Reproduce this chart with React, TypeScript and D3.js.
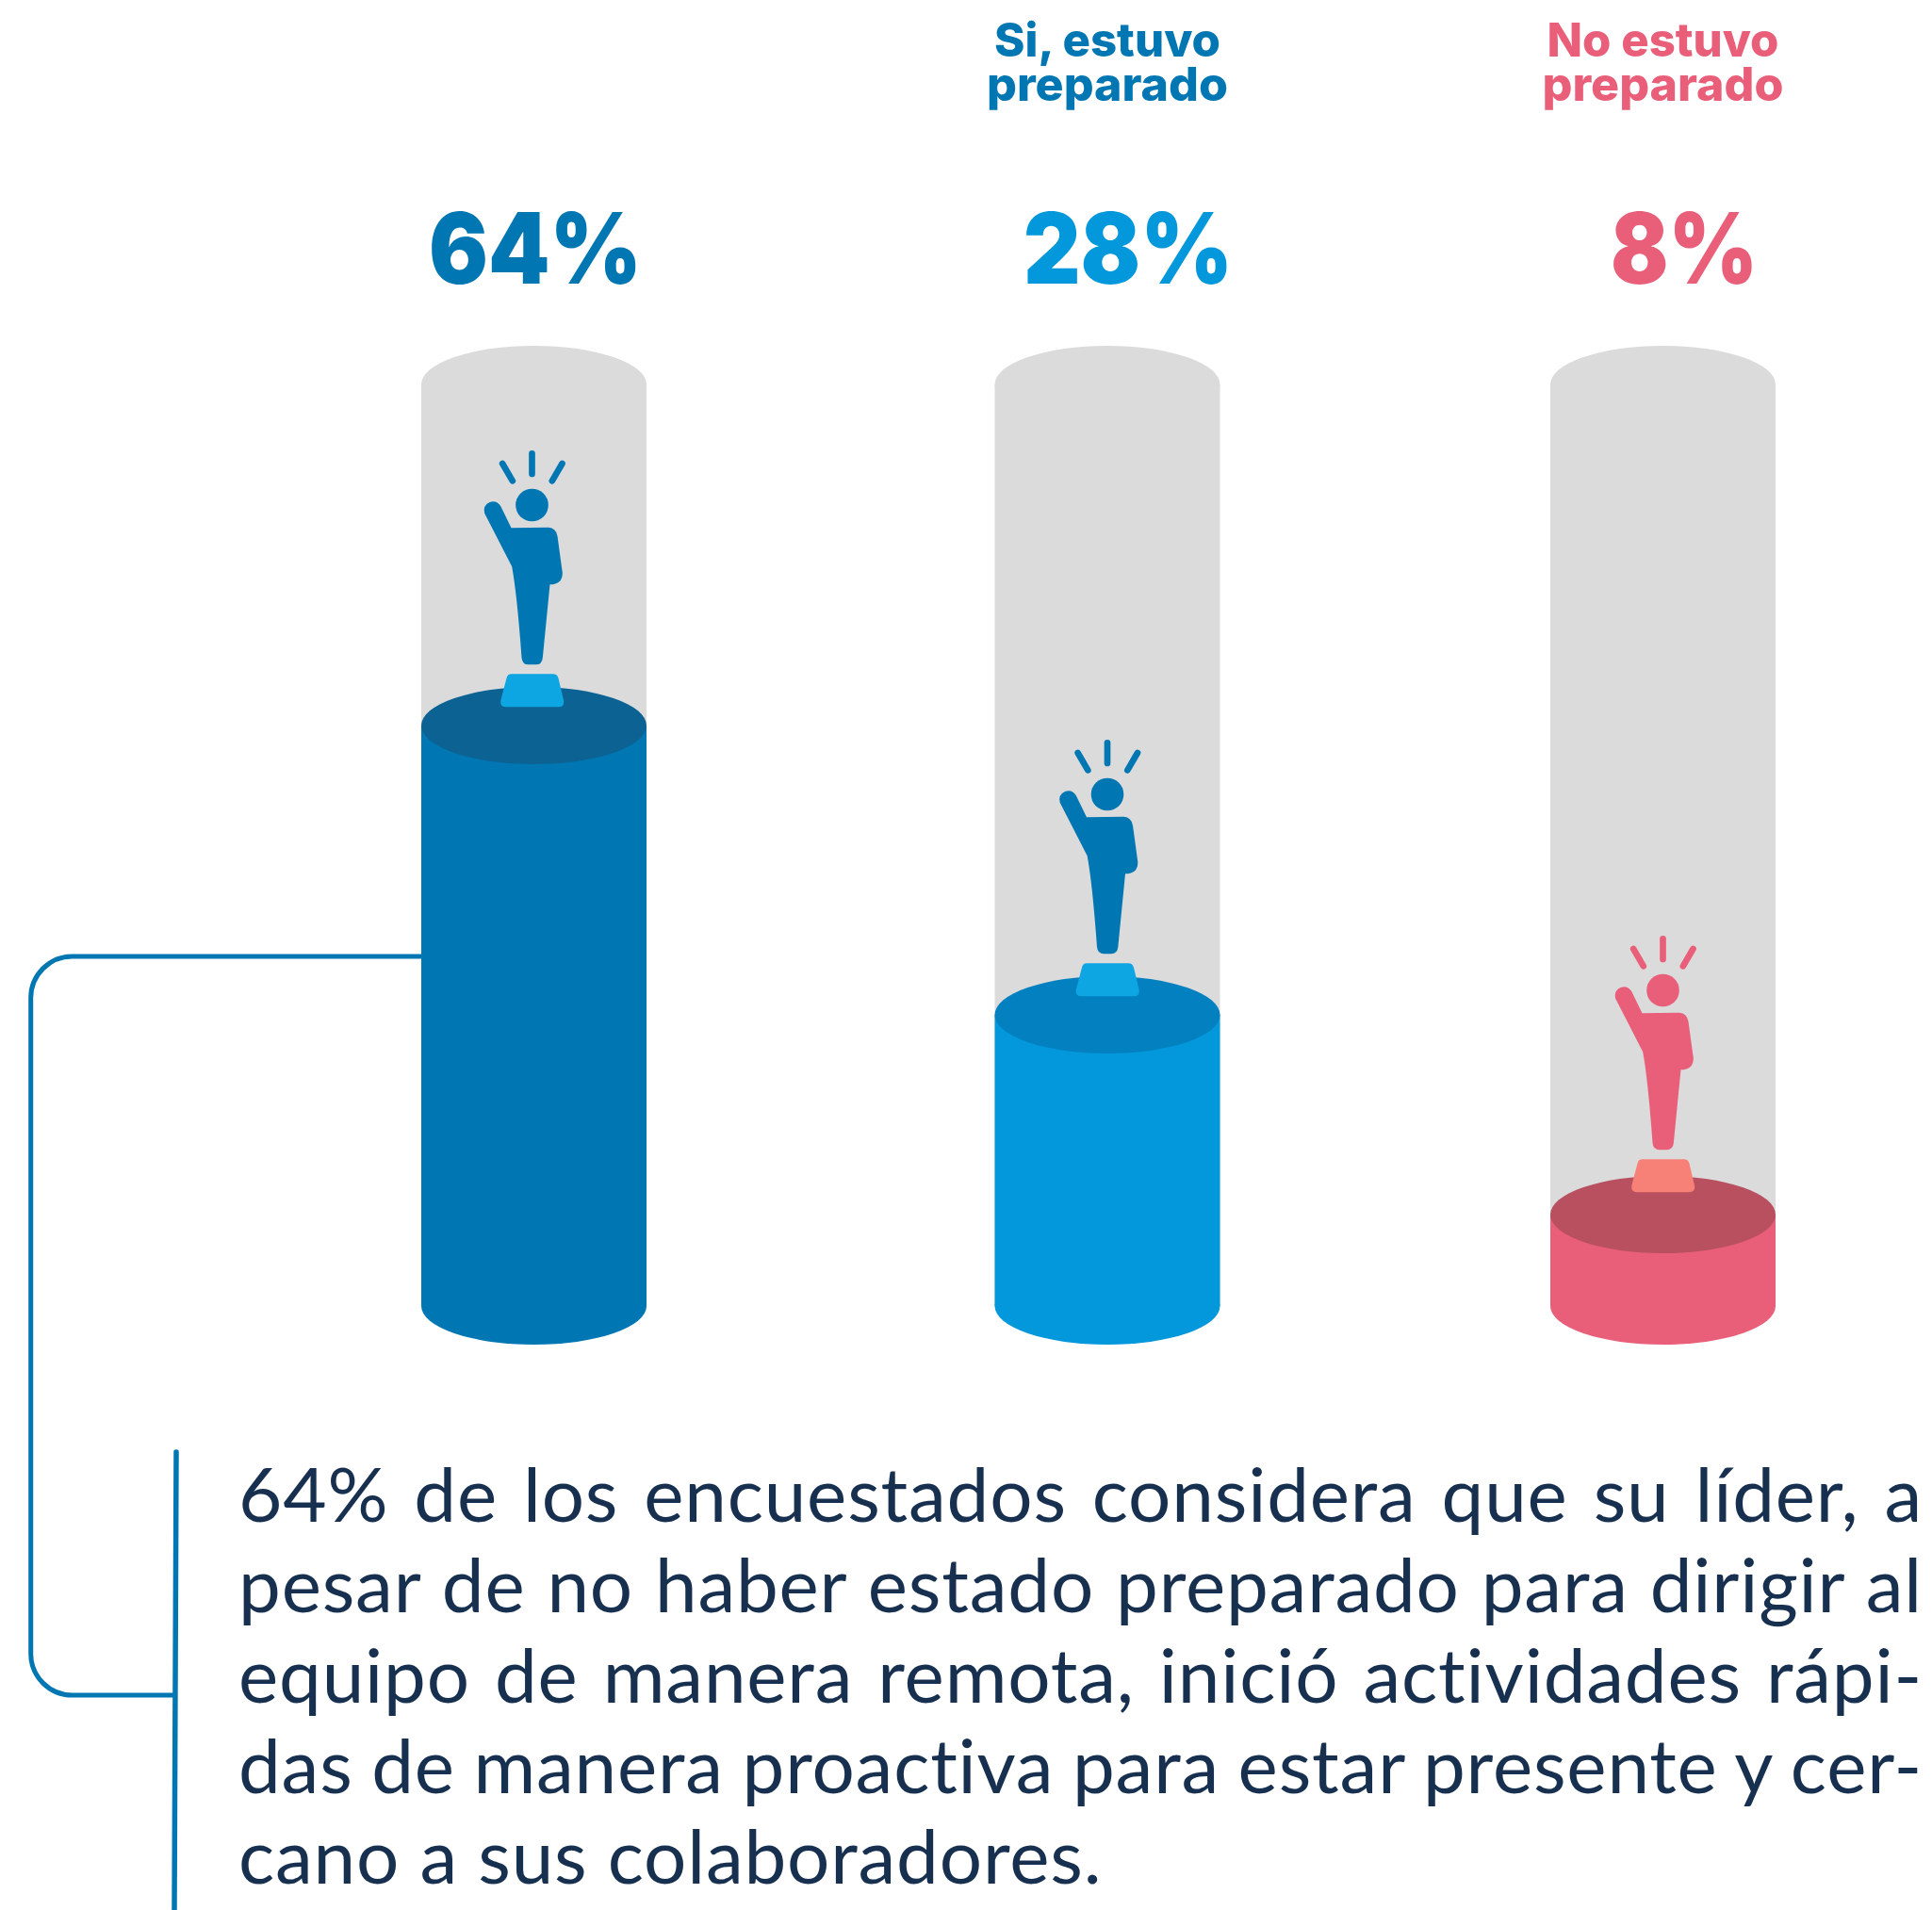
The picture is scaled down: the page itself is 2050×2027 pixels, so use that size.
import React, { useRef, useEffect } from "react";
import * as d3 from "d3";

const WIDTH = 2050;
const HEIGHT = 2027;

const categories = ["Proactivo", "Si, estuvo preparado", "No estuvo preparado"];
const values = [64, 28, 8];
const percentLabels = ["64%", "28%", "8%"];
const headerLabels = [[], ["Si, estuvo", "preparado"], ["No estuvo", "preparado"]];
const bodyColors = ["#0077b3", "#0398db", "#e95f7a"];
const lidColors = ["#0c6393", "#0380bf", "#b8505f"];
const figureColors = ["#0077b3", "#0077b3", "#e95f7a"];
const baseColors = ["#0ea5e3", "#0ea5e3", "#f78177"];
const headerColors = ["#0077b3", "#0077b3", "#e95f7a"];
const bodyLines = [
  "64% de los encuestados considera que su líder, a",
  "pesar de no haber estado preparado para dirigir al",
  "equipo de manera remota, inició actividades rápi-",
  "das de manera proactiva para estar presente y cer-",
  "cano a sus colaboradores.",
];

const TEXT_COLOR = "#17304f";
const TRACK_COLOR = "#dbdbdb";
const LINE_COLOR = "#0077b3";

// the bars in the source are not strictly proportional, so the scale is piecewise
const y = d3.scaleLinear().domain([0, 8, 28, 64, 100]).range([1386, 1289, 1077, 770, 408]);
const x = d3.scaleOrdinal<string, number>().domain(categories).range([566.5, 1175, 1764.5]);
const BAR_W = 239;
const RY = 41;

// hand placement of the icon and the big numbers, per column
const figureDx = [-2, 0, 0];
const figureDy = [-234, -234, -238];
const percentX = [568, 1197, 1787];
const percentW = [226, 222, 156];

const ARM_BODY =
  "M252 615 Q246 590 268 580 Q290 572 303 592 L337 662 L455 660 Q480 662 484 688 L500 805 Q500 842 460 842 L437 1075 Q435 1097 415 1097 L392 1097 Q372 1097 370 1075 Q355 870 339 785 Z";
const BASE =
  "M322 1140 Q325 1127 338 1127 L470 1127 Q483 1127 487 1140 L504 1212 Q506 1232 487 1232 L320 1232 Q302 1232 303 1212 Z";

const Figure = ({ color, base }: { color: string; base: string }) => (
  <g transform="scale(0.3333) translate(-403,-589)">
    <path d={ARM_BODY} fill={color} />
    <circle cx={403} cy={589} r={52} fill={color} />
    <g stroke={color} strokeWidth={20} strokeLinecap="round">
      <line x1={403} y1={425} x2={403} y2={490} />
      <line x1={309} y1={457} x2={341} y2={512} />
      <line x1={499} y1={457} x2={467} y2={512} />
    </g>
    <path d={BASE} fill={base} />
  </g>
);

const App = () => {
  const textRef = useRef<SVGGElement>(null);

  useEffect(() => {
    const g = d3.select(textRef.current);
    g.selectAll("*").remove();
    const left = 253;
    const right = 2040;
    const baseline = d3.scaleLinear().domain([0, 4]).range([1615, 1999]);
    bodyLines.forEach((line, i) => {
      const t = g
        .append("text")
        .attr("x", left)
        .attr("y", baseline(i))
        .attr("fill", TEXT_COLOR)
        .attr("font-family", "Lato")
        .attr("font-size", 80)
        .attr("letter-spacing", 0.8)
        .style("font-variant-ligatures", "none")
        .text(line);
      // justified block, the last line stays natural
      if (i < bodyLines.length - 1) {
        const natural = (t.node() as SVGTextElement).getComputedTextLength();
        const gaps = line.split(" ").length - 1;
        t.attr("word-spacing", (right - left - natural) / gaps);
      }
    });
  }, []);

  return (
    <svg
      width={WIDTH}
      height={HEIGHT}
      viewBox={`0 0 ${WIDTH} ${HEIGHT}`}
      style={{ position: "absolute", left: 0, top: 0, background: "#fff" }}
    >
      {categories.map((c, i) => {
        const cx = x(c);
        const top = y(values[i]);
        return (
          <g key={c}>
            <ellipse cx={cx} cy={y(100)} rx={BAR_W / 2} ry={RY} fill={TRACK_COLOR} />
            <rect x={cx - BAR_W / 2} y={y(100)} width={BAR_W} height={y(0) - y(100)} fill={TRACK_COLOR} />
            <ellipse cx={cx} cy={y(0)} rx={BAR_W / 2} ry={RY} fill={bodyColors[i]} />
            <rect x={cx - BAR_W / 2} y={top} width={BAR_W} height={y(0) - top} fill={bodyColors[i]} />
            <ellipse cx={cx} cy={top} rx={BAR_W / 2} ry={RY} fill={lidColors[i]} />
            <g transform={`translate(${cx + figureDx[i]},${top + figureDy[i]})`}>
              <Figure color={figureColors[i]} base={baseColors[i]} />
            </g>
          </g>
        );
      })}

      <g fontFamily="Inter" fontWeight={900} fontSize={104} textAnchor="middle">
        {percentLabels.map((p, i) => (
          <text key={p} x={percentX[i]} y={301} fill={bodyColors[i]} textLength={percentW[i]} lengthAdjust="spacingAndGlyphs">
            {p}
          </text>
        ))}
      </g>

      <g fontFamily="Inter" fontWeight={800} fontSize={50} textAnchor="middle">
        {headerLabels.map((lines, i) =>
          lines.map((l, j) => (
            <text
              key={i + "-" + j}
              x={x(categories[i])}
              y={j === 0 ? 60 : 107}
              fill={headerColors[i]}
              textLength={j === 0 ? (i === 1 ? 240 : 246) : 256}
              lengthAdjust="spacingAndGlyphs"
            >
              {l}
            </text>
          ))
        )}
      </g>

      <path
        d="M447 1015 H76.7 A44 44 0 0 0 32.7 1059 V1755 A44 44 0 0 0 76.7 1799 H186"
        fill="none"
        stroke={LINE_COLOR}
        strokeWidth={5}
      />
      <line x1={187} y1={1541} x2={185} y2={2027} stroke={LINE_COLOR} strokeWidth={5.5} strokeLinecap="round" />

      <g ref={textRef} />
    </svg>
  );
};

export default App;
